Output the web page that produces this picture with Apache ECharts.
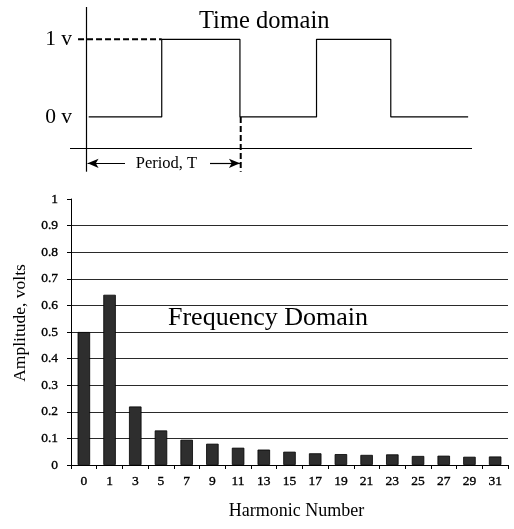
<!DOCTYPE html>
<html><head><meta charset="utf-8">
<script src="https://cdn.jsdelivr.net/npm/echarts@6/dist/echarts.min.js"></script>
<style>html,body{margin:0;padding:0;background:#fff}#c{width:514px;height:529px}</style>
</head><body><div id="c"></div>
<script>
// ---- Frequency domain data ----
const harmonics = ['0','1','3','5','7','9','11','13','15','17','19','21','23','25','27','29','31'];
const amplitudes = [0.5,0.64,0.22,0.13,0.095,0.08,0.065,0.058,0.05,0.044,0.041,0.038,0.04,0.034,0.035,0.031,0.032];
// ---- Time domain data (time in half-periods, voltage in volts) ----
const waveTime = [0.035,0.979,0.979,1.99,1.99,2.98,2.98,3.94,3.94,4.94];
const waveVolt = [0,0,1,1,0,0,1,1,0,0];
const voltTicks = [0,1];
const highDashTime = [-0.103,0.979];
const periodEdgeTime = 2;
const timeAxisVolt = -0.40;
const periodArrowVolt = -0.598;
const periodLabelTime = 1.04;

const FONT = '"Liberation Serif","Times New Roman",serif';
const chart = echarts.init(document.getElementById('c'), null, {renderer:'canvas'});
const heavy = {textBorderColor:'#000',textBorderWidth:0.35};

const option = {
  animation:false,
  backgroundColor:'#fff',
  textStyle:{fontFamily:FONT,color:'#000'},
  grid:[
    {left:70,right:42,top:7,bottom:357.3},
    {left:71,right:6,top:199,bottom:64}
  ],
  xAxis:[
    {gridIndex:0,type:'value',min:-0.207,max:4.99,show:false},
    {gridIndex:1,type:'category',data:harmonics,boundaryGap:true,
      axisLine:{show:true,lineStyle:{color:'#000',width:1}},
      axisTick:{show:true,interval:0,length:4,lineStyle:{color:'#000'}},
      axisLabel:Object.assign({interval:0,margin:9,color:'#000',fontFamily:FONT,fontSize:13.5},heavy),
      name:'Harmonic Number',nameLocation:'middle',nameGap:37,
      nameTextStyle:{fontFamily:FONT,fontSize:18,color:'#000',padding:[0,0,0,14]}}
  ],
  yAxis:[
    {gridIndex:0,type:'value',min:-0.706,max:1.416,
      axisLine:{show:false},axisTick:{show:false},splitLine:{show:false},
      axisLabel:{customValues:voltTicks,formatter:v=>v+' v',margin:-2,fontSize:21.5,color:'#000',fontFamily:FONT}},
    {gridIndex:1,type:'value',min:0,max:1,interval:0.1,
      axisLine:{show:true,lineStyle:{color:'#000',width:1}},
      axisTick:{show:true,length:4,lineStyle:{color:'#000'}},
      splitLine:{show:true,showMaxLine:false,lineStyle:{color:'#2a2a2a',width:1}},
      axisLabel:Object.assign({margin:13,color:'#000',fontFamily:FONT,fontSize:13.5},heavy),
      name:'Amplitude, volts',nameLocation:'middle',nameGap:42,nameRotate:90,
      nameTextStyle:{fontFamily:FONT,fontSize:17.5,color:'#000',padding:[0,0,0,18]}}
  ],
  series:[
    {type:'bar',xAxisIndex:1,yAxisIndex:1,data:amplitudes,barWidth:12.5,silent:true,
      itemStyle:{color:'#2e2e2e',borderColor:'#000',borderWidth:0.8}},
    {type:'line',xAxisIndex:0,yAxisIndex:0,silent:true,symbol:'none',
      data:waveTime.map((t,i)=>[t,waveVolt[i]]),
      lineStyle:{color:'#000',width:1.2},
      markLine:{silent:true,symbol:'none',label:{show:false},
        lineStyle:{color:'#000',width:1.2,type:'solid'},
        data:[
          {xAxis:0},
          {yAxis:timeAxisVolt},
          [{coord:[0.02,periodArrowVolt],symbol:'arrow',symbolSize:[7,11]},{coord:[0.504,periodArrowVolt],symbol:'none'}],
          [{coord:[1.603,periodArrowVolt],symbol:'none'},{coord:[periodEdgeTime-0.01,periodArrowVolt],symbol:'arrow',symbolSize:[7,11]}]
        ]},
      markPoint:{silent:true,symbol:'rect',symbolSize:0,
        label:{show:true,position:'inside',formatter:'Period, T',fontFamily:FONT,fontSize:16.5,color:'#000'},
        data:[{coord:[periodLabelTime,periodArrowVolt]}]}
    },
    {type:'line',xAxisIndex:0,yAxisIndex:0,silent:true,symbol:'none',
      data:highDashTime.map(t=>[t,1]),
      lineStyle:{color:'#000',width:2,type:[6,3]}},
    {type:'line',xAxisIndex:0,yAxisIndex:0,silent:true,symbol:'none',
      data:[[periodEdgeTime,0],[periodEdgeTime,-0.706]],
      lineStyle:{color:'#000',width:2,type:[6,3]}}
  ],
  graphic:[
    {type:'text',left:199,top:9.5,silent:true,style:{text:'Time domain',font:'24.5px '+FONT,fill:'#000'}},
    {type:'text',left:168,top:305,silent:true,style:{text:'Frequency Domain',font:'26px '+FONT,fill:'#000'}}
  ]
};
chart.setOption(option);
</script></body></html>
